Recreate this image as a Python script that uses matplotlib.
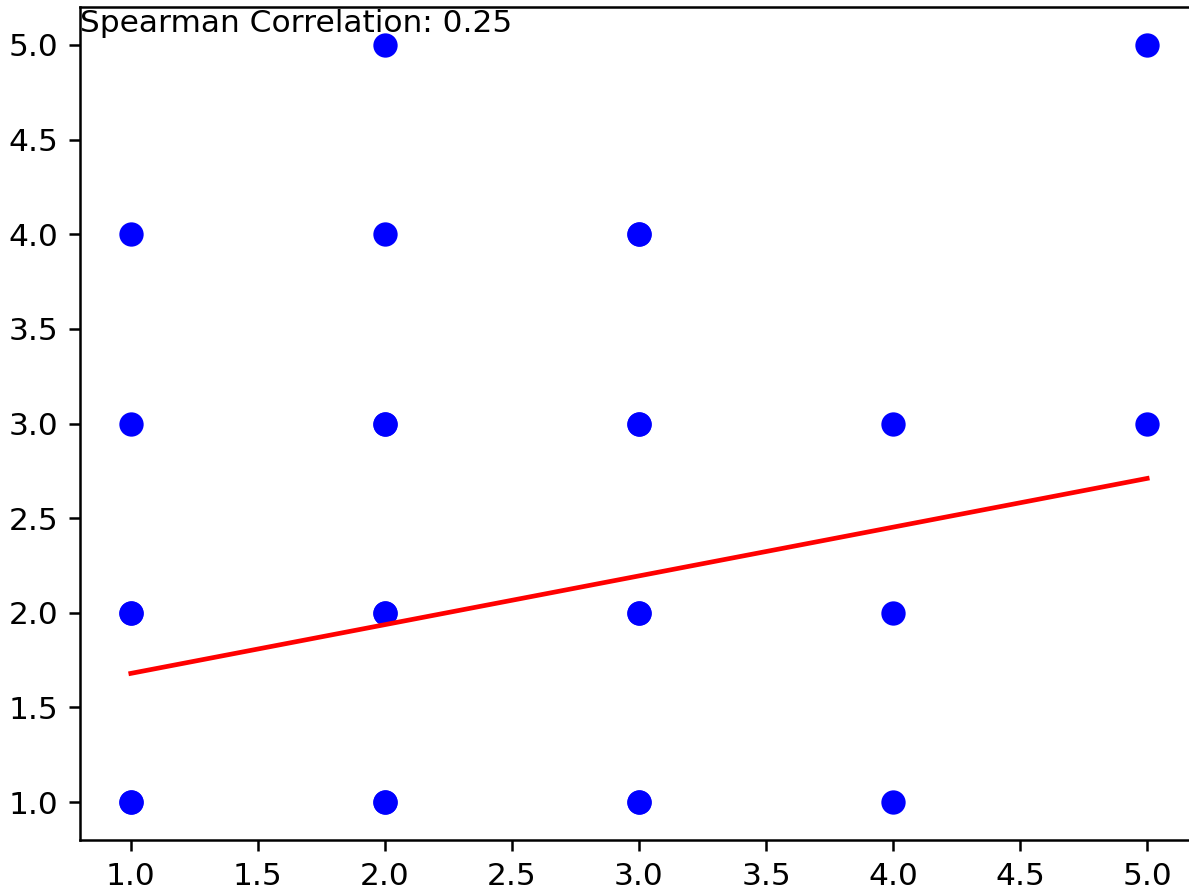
import matplotlib
matplotlib.use("Agg")
import matplotlib.pyplot as plt

# scatter data (some pairs repeat, so those dots look a bit heavier)
x = [1, 1, 1, 1, 1, 2, 2, 2, 2, 2, 2, 2, 3, 3, 3, 3, 3, 3, 4, 4, 4, 5, 5, 1, 3, 2, 3]
y = [1, 2, 3, 4, 1, 1, 2, 3, 4, 5, 2, 1, 1, 2, 3, 4, 3, 4, 1, 2, 3, 3, 5, 2, 2, 3, 1]

# fitted line end points
fit_x = [1, 5]
fit_y = [1.68, 2.71]

spearman = 0.25

fig = plt.figure(figsize=(1189 / 225, 893 / 225), dpi=225)
ax = fig.add_axes([80 / 1189, 53 / 893, 1118 / 1189, 833 / 893])

ax.scatter(x, y, color='blue', s=46)
ax.plot(fit_x, fit_y, color='red', linewidth=1.5)

ax.set_xlim(0.8, 5.2)
ax.set_ylim(0.8, 5.2)

ax.text(0.0, 0.97, f"Spearman Correlation: {spearman}", transform=ax.transAxes,
        fontsize=10, ha='left', va='baseline')

fig.savefig('out.png', dpi=225)
